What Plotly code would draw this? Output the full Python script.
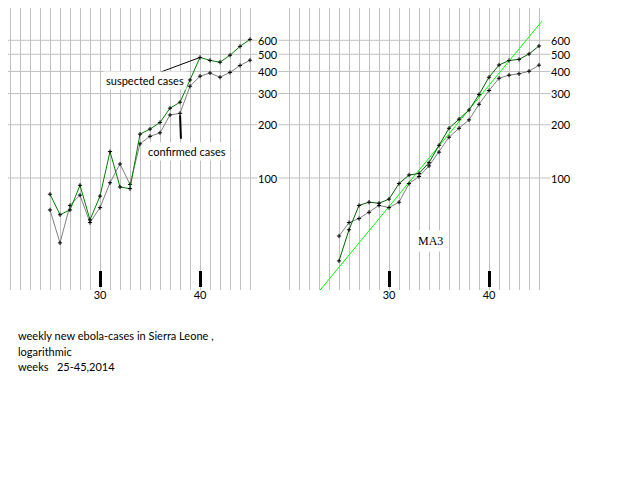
import math
import plotly.graph_objects as go

# weekly new ebola cases, Sierra Leone, weeks 25-45 2014
weeks = list(range(25, 46))
suspected = [81, 62, 66, 91, 58, 79, 141, 89, 87, 177, 189, 206, 248, 268, 358, 480, 462, 451, 494, 554, 607]
confirmed = [66, 43, 70, 80, 56, 68, 94, 120, 92, 156, 172, 180, 227, 232, 330, 376, 392, 371, 395, 432, 463]

# 3-week moving averages
ma3_suspected = [34, 51, 70, 73, 72, 76, 93, 104, 106, 122, 153, 191, 215, 242, 296, 371, 435, 461, 468, 502, 557]
ma3_confirmed = [47, 56, 59, 64, 70, 68, 73, 93, 102, 117, 140, 170, 191, 213, 261, 312, 366, 381, 388, 401, 434]

# straight trend line (exponential fit)
fit_weeks = [22.7, 45.3]
fit_cases = [21.8, 770]

y_ticks = [100, 200, 300, 400, 500, 600]
x_ticks = [30, 40]

FONT = "Lato, Liberation Sans, sans-serif"
# the page puts the plot 8px in from the corner, so work in window pixels
OFF = 8
W, H = 640 - OFF, 480 - OFF


def px(v):
    return (v - OFF) / W


def py(v):
    return 1 - (v - OFF) / H


mk = dict(symbol="cross-thin", size=3, line=dict(color="black", width=1))

fig = go.Figure()
fig.add_trace(go.Scatter(x=weeks, y=confirmed, mode="lines+markers",
                         line=dict(color="#808080", width=1), marker=mk,
                         xaxis="x", yaxis="y"))
fig.add_trace(go.Scatter(x=weeks, y=suspected, mode="lines+markers",
                         line=dict(color="#008000", width=1), marker=mk,
                         xaxis="x", yaxis="y"))
fig.add_trace(go.Scatter(x=fit_weeks, y=fit_cases, mode="lines",
                         line=dict(color="#00ff00", width=1),
                         xaxis="x2", yaxis="y2"))
fig.add_trace(go.Scatter(x=weeks, y=ma3_confirmed, mode="lines+markers",
                         line=dict(color="#808080", width=1), marker=mk,
                         xaxis="x2", yaxis="y2"))
fig.add_trace(go.Scatter(x=weeks, y=ma3_suspected, mode="lines+markers",
                         line=dict(color="#006400", width=1), marker=mk,
                         xaxis="x2", yaxis="y2"))

xa = dict(tickmode="array", tickvals=x_ticks, ticktext=[str(t) for t in x_ticks],
          ticks="inside", ticklen=16, tickwidth=3, tickcolor="black",
          showgrid=True, gridcolor="#c0c0c0", gridwidth=1,
          minor=dict(dtick=1, tick0=20, showgrid=True, gridcolor="#c0c0c0", gridwidth=1, ticks=""),
          zeroline=False, showline=False, anchor="free", position=py(287),
          tickfont=dict(family=FONT, size=11, color="black"))
ya = dict(type="log", range=[2 - 112 / 177, 2 + (178 - OFF) / 177], domain=[py(290), 1],
          showgrid=False, showticklabels=False, zeroline=False, showline=False)

# week w sits at window pixel 100 + 10*(w-30) on the left, 389 + 10*(w-30) on the right
fig.update_layout(
    width=W, height=H, margin=dict(l=0, r=0, t=0, b=0),
    paper_bgcolor="white", plot_bgcolor="white", showlegend=False,
    xaxis=dict(xa, domain=[px(OFF), px(258)], range=[30 - (100 - OFF) / 10, 30 + 158 / 10]),
    xaxis2=dict(xa, domain=[px(285), px(549)], range=[30 - 104 / 10, 30 + 160 / 10]),
    yaxis=dict(ya, anchor="x"),
    yaxis2=dict(ya, anchor="x2"),
)

# horizontal grid across both panels, with labels in white boxes
for v in y_ticks:
    fig.add_shape(type="line", xref="paper", yref="y", x0=0, x1=px(572), y0=v, y1=v,
                  line=dict(color="#c0c0c0", width=1), layer="below")
    for xl in (268, 561):
        fig.add_annotation(xref="paper", yref="y", x=px(xl), y=math.log10(v), text=str(v),
                           xanchor="center", yanchor="middle",
                           showarrow=False, bgcolor="white", borderpad=0,
                           font=dict(family=FONT, size=11, color="black"))

# pointer lines
fig.add_annotation(xref="x", yref="y", x=40, y=math.log10(suspected[weeks.index(40)]), text="",
                   showarrow=True, arrowhead=0, arrowwidth=1, arrowcolor="black",
                   ax=-43, ay=16)
fig.add_annotation(xref="x", yref="y", x=38, y=math.log10(confirmed[weeks.index(38)]), text="",
                   showarrow=True, arrowhead=0, arrowwidth=2, arrowcolor="black",
                   ax=1, ay=27, standoff=2)

labels = [("suspected cases", 145, 80), ("confirmed cases", 187, 151)]
for txt, cx, cy in labels:
    fig.add_annotation(xref="paper", yref="paper", x=px(cx), y=py(cy), text=txt,
                       xanchor="center", yanchor="middle",
                       showarrow=False, bgcolor="white", borderpad=2,
                       font=dict(family=FONT, size=11, color="black"))
fig.add_annotation(xref="paper", yref="paper", x=px(430), y=py(241), text="MA3",
                   xanchor="center", yanchor="middle",
                   showarrow=False, bgcolor="white", borderpad=3,
                   font=dict(family="Liberation Serif, serif", size=12, color="black"))

notes = [("weekly new ebola-cases in Sierra Leone ,", 335),
         ("logarithmic", 351),
         ("weeks\u00a0\u00a0 25-45,2014", 366)]
for txt, cy in notes:
    fig.add_annotation(xref="paper", yref="paper", x=px(16), y=py(cy), text=txt,
                       xanchor="left", yanchor="middle", showarrow=False,
                       font=dict(family=FONT, size=11, color="black"))

fig.write_html("out.html")
